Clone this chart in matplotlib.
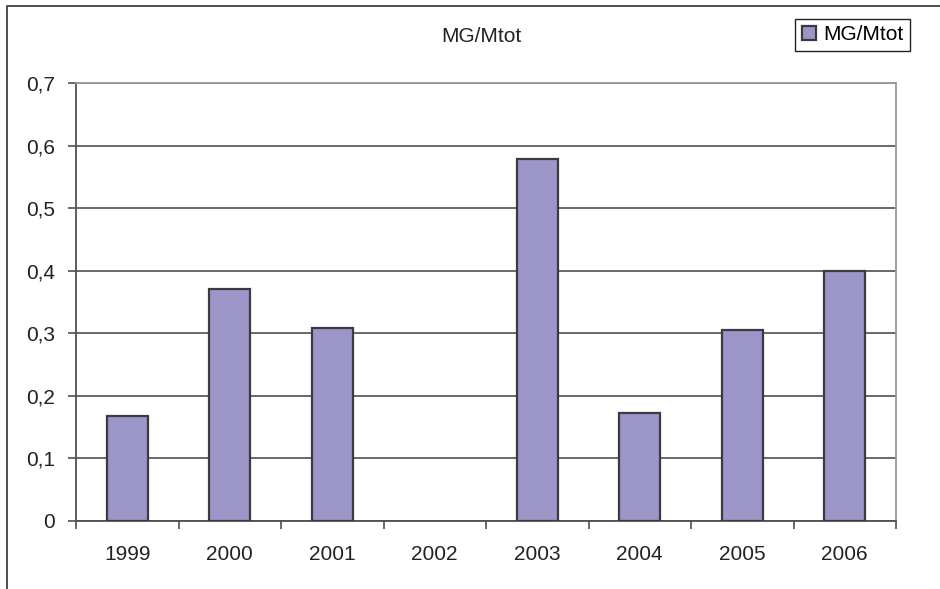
import matplotlib as mpl
import matplotlib.pyplot as plt
from matplotlib.lines import Line2D
from matplotlib.ticker import FuncFormatter, FixedLocator
import numpy as np

# anni e rapporto MG/Mtot
anni = ['1999', '2000', '2001', '2002', '2003', '2004', '2005', '2006']
mg_mtot = [0.168, 0.370, 0.309, 0.0, 0.579, 0.172, 0.306, 0.399]

mpl.rcParams.update({'font.family': 'Liberation Sans', 'font.size': 15})

W, H = 940, 589
fig = plt.figure(figsize=(W/100, H/100), dpi=100)
ax = fig.add_axes((76/W, (H-521)/H, 820/W, 438/H))

# cornice esterna del grafico: lato sinistro e lato superiore
xl, yt = 6.5/W, 1 - 5.5/H
fig.lines.append(Line2D([xl, xl, 1.0], [0.0, yt, yt], transform=fig.transFigure,
                        color='#404040', linewidth=1.3))

x = np.arange(len(anni))
bars = ax.bar(x, mg_mtot, width=0.4, color='#9c96c8', edgecolor='#3a3a40',
              linewidth=1.6, label='MG/Mtot', zorder=3)
for b, v in zip(bars, mg_mtot):
    if v == 0:
        b.set_linewidth(0)

ax.set_xlim(-0.5, len(anni) - 0.5)
ax.set_ylim(0, 0.7)
ax.set_yticks(np.arange(0, 0.71, 0.1))
ax.yaxis.set_major_formatter(FuncFormatter(lambda v, p: ('%.1f' % v).replace('.', ',') if v > 1e-9 else '0'))
ax.grid(axis='y', color='#404040', linewidth=1.1, zorder=1)

ax.set_xticks(x)
ax.set_xticklabels(anni)
ax.xaxis.set_minor_locator(FixedLocator(np.arange(-0.5, len(anni), 1.0)))
ax.tick_params(axis='x', which='major', length=0, pad=17, colors='#222222')
ax.tick_params(axis='x', which='minor', length=6, width=1.1, color='#404040')
ax.tick_params(axis='y', length=6, width=1.1, pad=9, color='#404040', labelcolor='#222222')

ax.spines['left'].set_color('#505050')
ax.spines['bottom'].set_color('#505050')
ax.spines['top'].set_color('#a09694')
ax.spines['right'].set_color('#a09694')
for s in ax.spines.values():
    s.set_linewidth(1.3)

fig.text(481/W, 1 - 37/H, 'MG/Mtot', ha='center', va='center', fontsize=15, color='#222222')

leg = fig.legend(loc='upper right', bbox_to_anchor=(910/W, 1 - 19/H), borderaxespad=0,
                 fancybox=False, framealpha=1, edgecolor='#222222',
                 handlelength=0.7, handleheight=0.7, handletextpad=0.35,
                 borderpad=0.3, fontsize=15)
leg.get_frame().set_linewidth(1.0)

fig.savefig('out.png', dpi=100)
